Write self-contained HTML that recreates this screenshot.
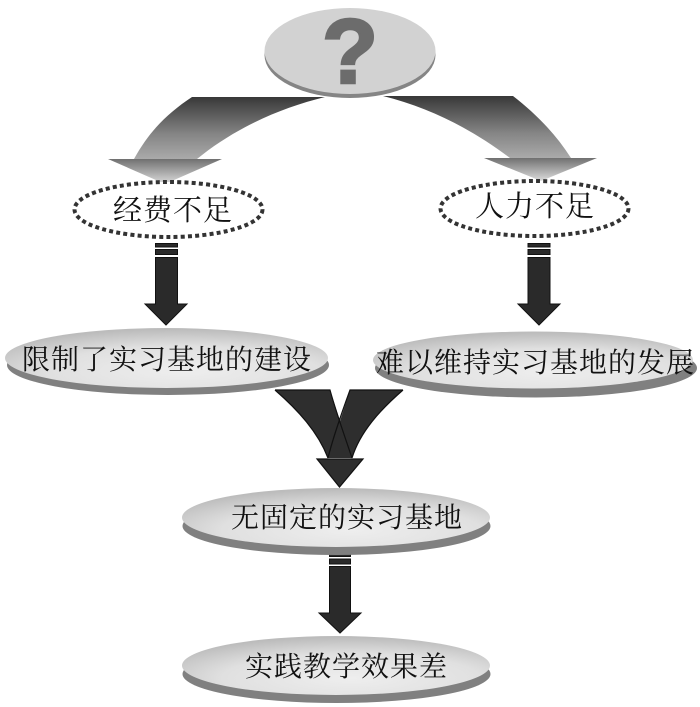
<!DOCTYPE html>
<html><head><meta charset="utf-8"><style>html,body{margin:0;padding:0;background:#fff}svg{display:block}
text.c{font-family:"Liberation Serif","Noto Serif CJK SC",serif;fill:#111;font-size:28px;letter-spacing:1px}</style></head>
<body>
<svg width="700" height="707" viewBox="0 0 700 707" xmlns="http://www.w3.org/2000/svg">
<defs>
<linearGradient id="sh" x1="0" y1="0" x2="0" y2="1"><stop offset="0" stop-color="#383838"/><stop offset="0.6" stop-color="#858585"/><stop offset="1" stop-color="#aaaaaa"/></linearGradient>
<linearGradient id="hd" x1="0" y1="0" x2="0" y2="1"><stop offset="0" stop-color="#707070"/><stop offset="1" stop-color="#dcdcdc"/></linearGradient>
<radialGradient id="fc" cx="0.55" cy="0.72" r="0.7"><stop offset="0" stop-color="#eeeeee"/><stop offset="0.6" stop-color="#e0e0e0"/><stop offset="1" stop-color="#bcbcbc"/></radialGradient>
</defs>

<path d="M192 97H325C280 108 235 128 197 159H134C150 130 168 113 192 97Z" fill="url(#sh)"/>
<path d="M108 159H222L165 184Z" fill="url(#hd)"/>
<path d="M383 96H513C535 113 555 133 571 158H510C470 128 430 108 383 96Z" fill="url(#sh)"/>
<path d="M484 158H597L541 181Z" fill="url(#hd)"/>

<ellipse cx="350" cy="55" rx="85.5" ry="43" fill="#858585"/>
<ellipse cx="350" cy="51" rx="85.5" ry="43" fill="#d2d2d2"/>
<text x="350" y="83" text-anchor="middle" stroke="#6c6c6c" stroke-width="2.500" style="font-family:'Liberation Sans',sans-serif;font-weight:bold;font-size:92px;fill:#6c6c6c">?</text>

<ellipse cx="168.5" cy="209.5" rx="94" ry="27.5" fill="#fff" stroke="#333" stroke-width="4" stroke-dasharray="4 3.2"/>
<ellipse cx="534.5" cy="208.5" rx="94" ry="27.5" fill="#fff" stroke="#333" stroke-width="4" stroke-dasharray="4 3.2"/>
<text class="c" x="113" y="220" style="font-size:29px">经费不足</text>
<text class="c" x="475" y="216" style="font-size:29px">人力不足</text>

<g fill="#2a2a2a" stroke="#111" stroke-width="1">
<rect x="155.500" y="243.500" width="22" height="3.500"/><rect x="155.500" y="249.500" width="22" height="5"/>
<path d="M155.500 257.500H177.500V304H187L166 325L145 304H155.500Z"/>
<rect x="528" y="243.500" width="22" height="3.500"/><rect x="528" y="249.500" width="22" height="5"/>
<path d="M528 257.500H550V304H560L539 325L518 304H528Z"/>
<rect x="329.500" y="552.500" width="21" height="4"/><rect x="329.500" y="559" width="21" height="5"/>
<path d="M329.500 566.500H350.500V613H361L340 633L319 613H329.500Z"/>
</g>

<ellipse cx="168" cy="365" rx="161" ry="30" fill="#808080"/>
<ellipse cx="166.500" cy="358" rx="161.500" ry="30" fill="url(#fc)"/>
<ellipse cx="536" cy="368" rx="161" ry="29.500" fill="#808080"/>
<ellipse cx="533" cy="360" rx="160" ry="28.500" fill="url(#fc)"/>
<text class="c" x="22" y="369">限制了实习基地的建设</text>
<text class="c" x="376" y="372">难以维持实习基地的发展</text>

<path d="M275 390H330L352 458H328C318 432 298 410 275 390Z" fill="#2e2e2e"/>
<path d="M403 390H350L328 458H352C360 432 380 410 403 390Z" fill="#2e2e2e"/>
<g fill="none" stroke="#111" stroke-width="1.200">
<path d="M275 390H330C336 412 345 437 352 458"/>
<path d="M275 390C298 410 318 432 328 458"/>
<path d="M403 390H350C342 412 333 437 328 458"/>
<path d="M403 390C380 410 360 432 352 458"/>
</g>
<path d="M317 459H363L339.500 487Z" fill="#2e2e2e" stroke="#111" stroke-width="1.200"/>

<ellipse cx="336.500" cy="526" rx="154" ry="29" fill="#808080"/>
<ellipse cx="336" cy="517.500" rx="154" ry="29.500" fill="url(#fc)"/>
<ellipse cx="336.500" cy="674" rx="154" ry="29" fill="#808080"/>
<ellipse cx="336" cy="665.500" rx="154" ry="29.500" fill="url(#fc)"/>
<text class="c" x="231" y="527">无固定的实习基地</text>
<text class="c" x="245" y="676">实践教学效果差</text>
</svg>
</body></html>
